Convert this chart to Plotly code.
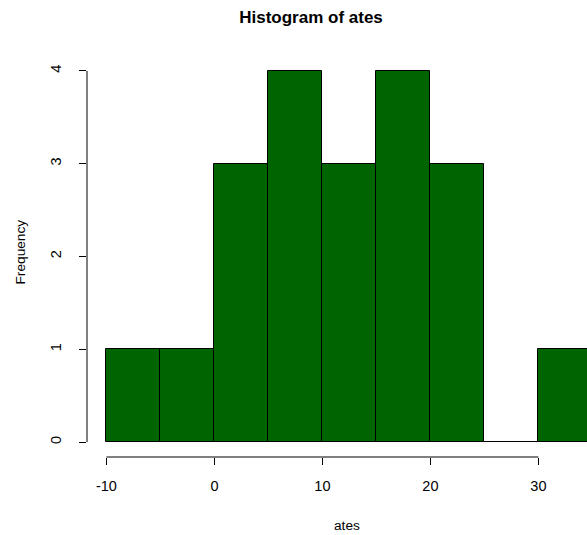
import plotly.graph_objects as go

bin_starts = [-10, -5, 0, 5, 10, 15, 20, 25, 30]
bin_width = 5
counts = [1, 1, 3, 4, 3, 4, 3, 0, 1]
x_ticks = [-10, 0, 10, 20, 30]
x_tick_labels = ["-10", "0", "10", "20", "30"]
y_ticks = [0, 1, 2, 3, 4]

centers = [s + bin_width / 2 for s in bin_starts]

font = "Liberation Sans, Arial, sans-serif"

fig = go.Figure(go.Bar(
    x=centers, y=counts, width=[bin_width] * len(counts),
    marker=dict(color="#006400", line=dict(color="black", width=1)),
    hoverinfo="skip",
))

fig.update_layout(
    width=587, height=535,
    margin=dict(l=87, r=0, t=56, b=78, autoexpand=False),
    plot_bgcolor="white", paper_bgcolor="white",
    font=dict(family=font, size=14.5, color="black"),
    showlegend=False,
    title=dict(text="<b>Histogram of ates</b>", x=311 / 587, xanchor="center",
               y=1 - 17 / 535, yanchor="middle", font=dict(size=17)),
    bargap=0,
)
fig.update_xaxes(range=[-11.8, 34.5], tickvals=x_ticks, ticktext=x_tick_labels,
                 ticks="outside", ticklen=7,
                 tickcolor="black", showgrid=False, zeroline=False, showline=False,
                 ticklabelstandoff=9)
fig.update_yaxes(range=[-0.16, 4.16], tickvals=y_ticks, ticks="outside", ticklen=7,
                 tickcolor="black", showgrid=False, zeroline=False, showline=False,
                 tickangle=-90, ticklabelstandoff=12)

fig.add_shape(type="line", xref="x", yref="paper", x0=min(x_ticks), x1=max(x_ticks),
              y0=0, y1=0, line=dict(color="black", width=1))
fig.add_shape(type="line", xref="paper", yref="y", x0=0, x1=0,
              y0=min(y_ticks), y1=max(y_ticks), line=dict(color="black", width=1))

fig.add_annotation(text="ates", xref="paper", yref="paper", x=(347 - 87) / 500, y=0,
                   yshift=-68, showarrow=False, xanchor="center", yanchor="middle",
                   font=dict(size=13.7))
fig.add_annotation(text="Frequency", xref="paper", yref="paper", x=0, y=0.5,
                   xshift=-67, yshift=4, showarrow=False, textangle=-90,
                   xanchor="center", yanchor="middle", font=dict(size=13.7))

fig.write_html("out.html", config={"displayModeBar": False},
               post_script="document.body.style.margin='0';")
